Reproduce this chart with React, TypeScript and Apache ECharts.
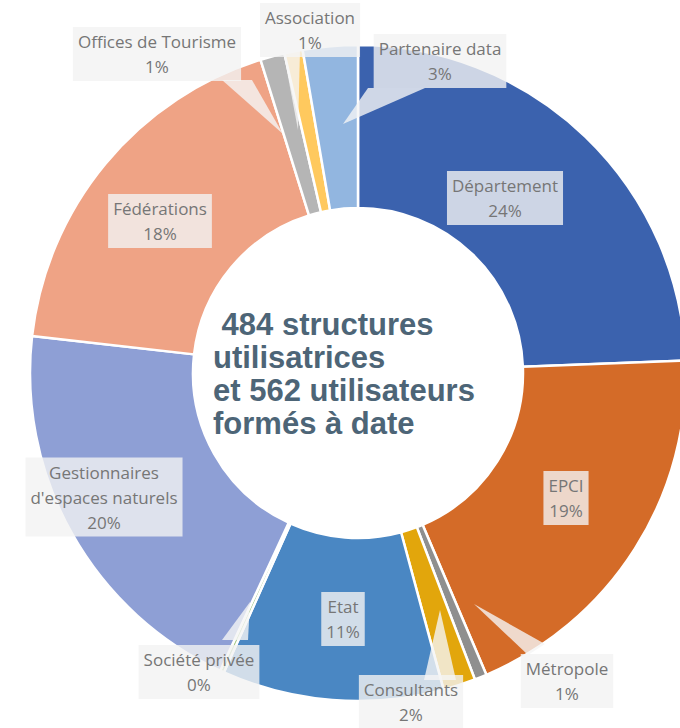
import React, { useEffect, useRef } from "react";
import * as echarts from "echarts";

// ---- data ----
const categories = [
  "Département",
  "EPCI",
  "Métropole",
  "Consultants",
  "Etat",
  "Société privée",
  "Gestionnaires d'espaces naturels",
  "Fédérations",
  "Offices de Tourisme",
  "Association",
  "Partenaire data",
];
const shares = [24.4, 19.2, 0.6, 1.6, 10.9, 0.2, 19.9, 18.4, 1.2, 0.9, 2.7];
const sliceColors = [
  "#3B62AE",
  "#D46B28",
  "#8F8F8F",
  "#E2A60C",
  "#4A87C3",
  "#A8C98A",
  "#8E9FD5",
  "#EFA385",
  "#B5B5B5",
  "#FFC95E",
  "#92B6E0",
];
const centerLines = [" 484 structures", "utilisatrices", "et 562 utilisateurs", "formés à date"];

// ---- layout (label anchors, callout pointers) ----
const labelAnchors: Record<string, [number, number]> = {
  "Département": [505, 198],
  "EPCI": [566, 498],
  "Métropole": [567, 681],
  "Consultants": [411, 702],
  "Etat": [343, 619],
  "Société privée": [199, 672],
  "Gestionnaires d'espaces naturels": [104, 497],
  "Fédérations": [160, 221],
  "Offices de Tourisme": [157, 54],
  "Association": [310, 30],
  "Partenaire data": [440, 61],
};
const pointers: number[][][] = [
  [[368, 88], [425, 88], [343, 124]],
  [[283, 50], [300, 50], [298, 130]],
  [[222, 80], [252, 80], [283, 134]],
  [[474, 604], [545, 644], [528, 655]],
  [[440, 610], [424, 680], [456, 680]],
  [[250, 602], [222, 640], [248, 640]],
];

export default function App() {
  const ref = useRef<HTMLDivElement>(null);
  useEffect(() => {
    if (!ref.current) return;
    const chart = echarts.init(ref.current, undefined, { renderer: "svg" });
    const option: any = {
      animation: false,
      backgroundColor: "#ffffff",
      series: [
        {
          type: "pie",
          center: [358, 373],
          radius: [165, 328],
          startAngle: 90,
          clockwise: true,
          percentPrecision: 0,
          avoidLabelOverlap: false,
          itemStyle: { borderColor: "#ffffff", borderWidth: 2.5 },
          label: {
            show: true,
            position: "inside",
            formatter: (p: any) =>
              `${p.name.replace("Gestionnaires ", "Gestionnaires\n")}\n${p.percent}%`,
            fontFamily: '"Open Sans", sans-serif',
            fontSize: 17,
            lineHeight: 25,
            color: "#767676",
            backgroundColor: "rgba(243,243,243,0.8)",
            padding: [3, 5, 1, 5],
            align: "center",
            verticalAlign: "middle",
          },
          labelLine: { show: false },
          emphasis: { disabled: true },
          labelLayout: (params: any) => {
            const a = labelAnchors[categories[params.dataIndex]];
            return a ? { x: a[0], y: a[1] } : {};
          },
          data: categories.map((name, i) => ({
            name,
            value: shares[i],
            itemStyle: { color: sliceColors[i] },
          })),
        },
      ],
      graphic: [
        ...pointers.map((pts) => ({
          type: "polygon",
          z: 3,
          shape: { points: pts },
          style: { fill: "rgba(245,245,245,0.8)" },
        })),
        {
          type: "text",
          z: 10,
          left: 213,
          top: 308,
          style: {
            text: centerLines.join("\n"),
            font: 'bold 31px "Liberation Sans", Arial, sans-serif',
            fill: "#4D6577",
            lineHeight: 33,
          },
        },
      ],
    };
    chart.setOption(option);
    return () => chart.dispose();
  }, []);
  return (
    <div
      ref={ref}
      style={{ position: "absolute", left: 0, top: 0, width: 680, height: 728, background: "#fff" }}
    />
  );
}
